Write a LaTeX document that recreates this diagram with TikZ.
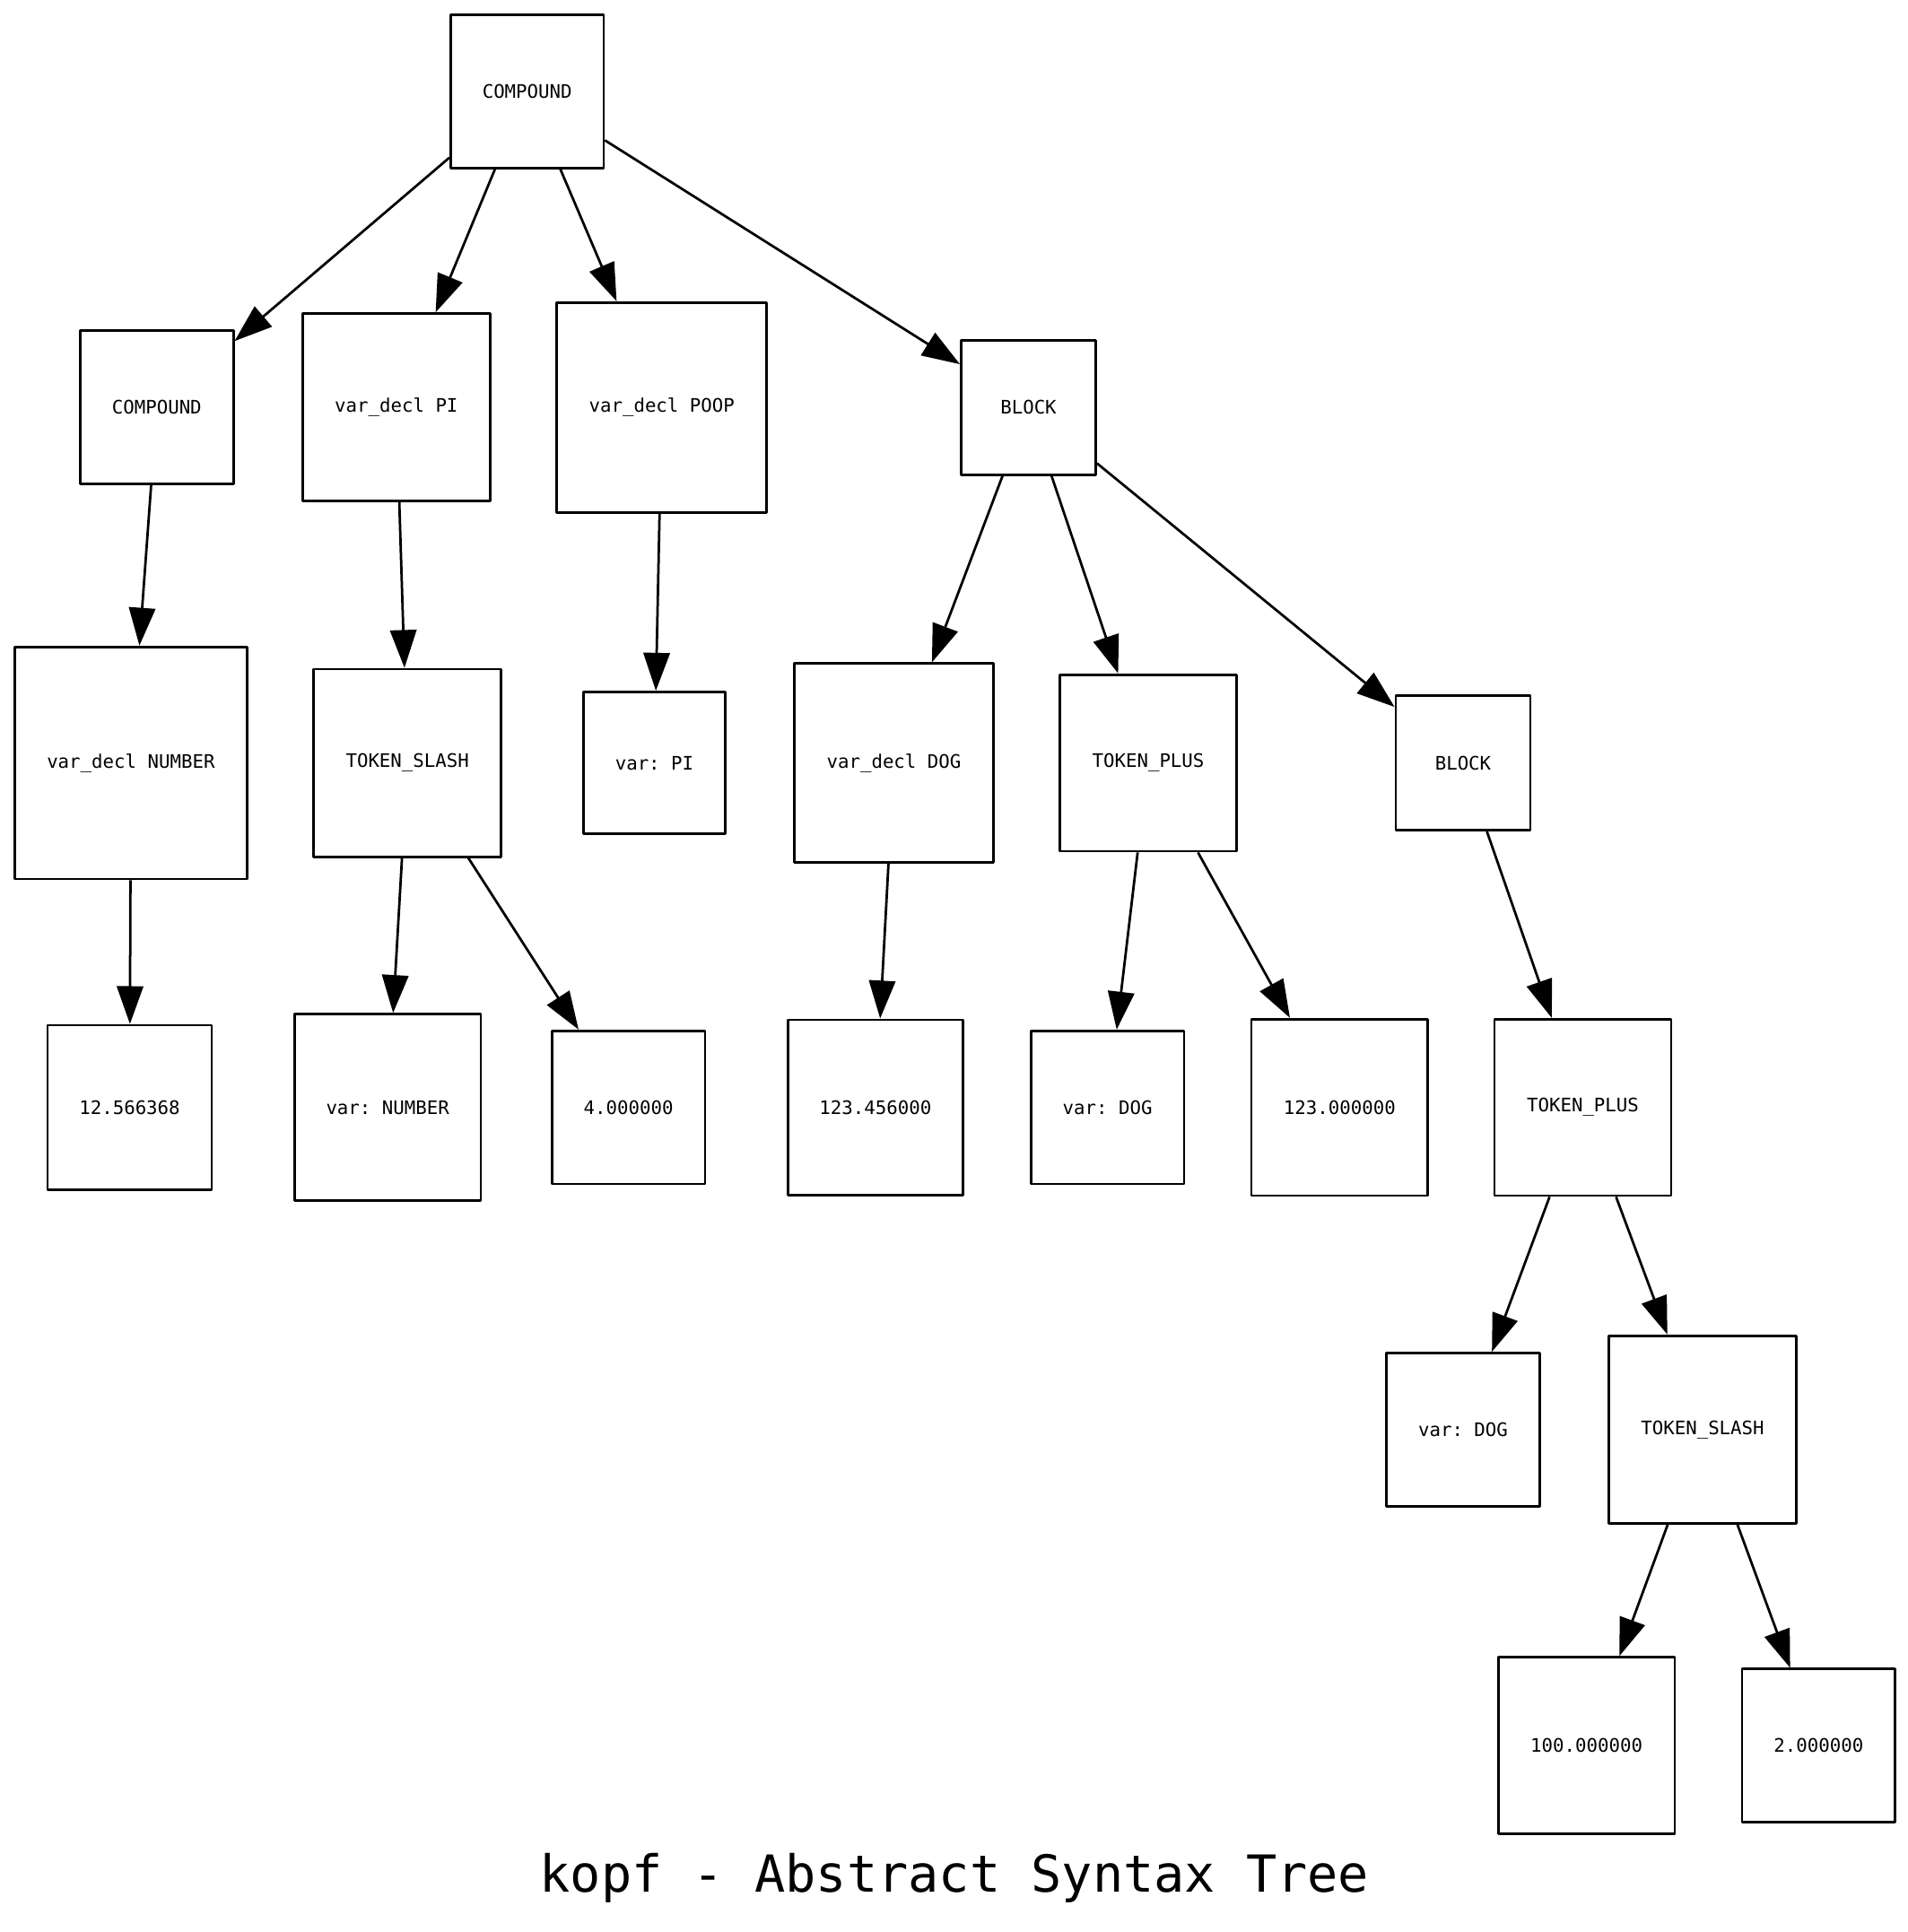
\documentclass[tikz,border=0pt]{standalone}
\usepackage{fontspec}
\setmonofont{DejaVu Sans Mono}
\usepackage{tikz}
\usetikzlibrary{arrows.meta}

\tikzset{
  astnode/.style={draw, line width=1.5pt, inner sep=0pt, minimum size=#1,
    font=\ttfamily\fontsize{11.3}{13}\selectfont},
  astedge/.style={line width=1.5pt, -{Triangle[length=23pt,width=16pt]}}
}

\begin{document}
\begin{tikzpicture}[x=0.75pt, y=-0.75pt, line join = round]

                        \useasboundingbox (0,0) rectangle (1545,1565);

                        % root
                        \node[astnode=93pt] (0) at (427,74) {COMPOUND};
                        % level 1
                        \node[astnode=93pt] (1) at (127,330) {COMPOUND};
                        \node[astnode=114pt] (2) at (321,330) {var\_decl PI};
                        \node[astnode=127.5pt] (3) at (536,330) {var\_decl POOP};
                        \node[astnode=81.75pt] (4) at (833,330) {BLOCK};
                        % level 2
                        \node[astnode=141pt] (5) at (106,618) {var\_decl NUMBER};
                        \node[astnode=114pt] (6) at (330,618) {TOKEN\_SLASH};
                        \node[astnode=86.25pt] (7) at (530,618) {var: PI};
                        \node[astnode=120.75pt] (8) at (724,618) {var\_decl DOG};
                        \node[astnode=107.25pt] (9) at (930,618) {TOKEN\_PLUS};
                        \node[astnode=81.75pt] (10) at (1185,618) {BLOCK};
                        % level 3
                        \node[astnode=99.75pt] (11) at (105,897) {12.566368};
                        \node[astnode=113.25pt] (12) at (314,897) {var: NUMBER};
                        \node[astnode=93pt] (13) at (509,897) {4.000000};
                        \node[astnode=106.5pt] (14) at (709,897) {123.456000};
                        \node[astnode=93pt] (15) at (897,897) {var: DOG};
                        \node[astnode=107.25pt] (16) at (1085,897) {123.000000};
                        \node[astnode=107.25pt] (17) at (1282,897) {TOKEN\_PLUS};
                        % level 4
                        \node[astnode=93pt] (18) at (1185,1158) {var: DOG};
                        \node[astnode=114pt] (19) at (1379,1158) {TOKEN\_SLASH};
                        % level 5
                        \node[astnode=107.25pt] (20) at (1285,1414) {100.000000};
                        \node[astnode=93pt] (21) at (1473,1414) {2.000000};
                        % title
                        \node[anchor=base, font=\ttfamily\fontsize{31}{36}\selectfont] (title) at (773,1533) {kopf - Abstract Syntax Tree};

                        % edges
                        \draw[astedge] (0)--(1);
                        \draw[astedge] (0)--(2);
                        \draw[astedge] (0)--(3);
                        \draw[astedge] (0)--(4);
                        \draw[astedge] (1)--(5);
                        \draw[astedge] (2)--(6);
                        \draw[astedge] (3)--(7);
                        \draw[astedge] (4)--(8);
                        \draw[astedge] (4)--(9);
                        \draw[astedge] (4)--(10);
                        \draw[astedge] (5)--(11);
                        \draw[astedge] (6)--(12);
                        \draw[astedge] (6)--(13);
                        \draw[astedge] (8)--(14);
                        \draw[astedge] (9)--(15);
                        \draw[astedge] (9)--(16);
                        \draw[astedge] (10)--(17);
                        \draw[astedge] (17)--(18);
                        \draw[astedge] (17)--(19);
                        \draw[astedge] (19)--(20);
                        \draw[astedge] (19)--(21);

                    \end{tikzpicture}
\end{document}
